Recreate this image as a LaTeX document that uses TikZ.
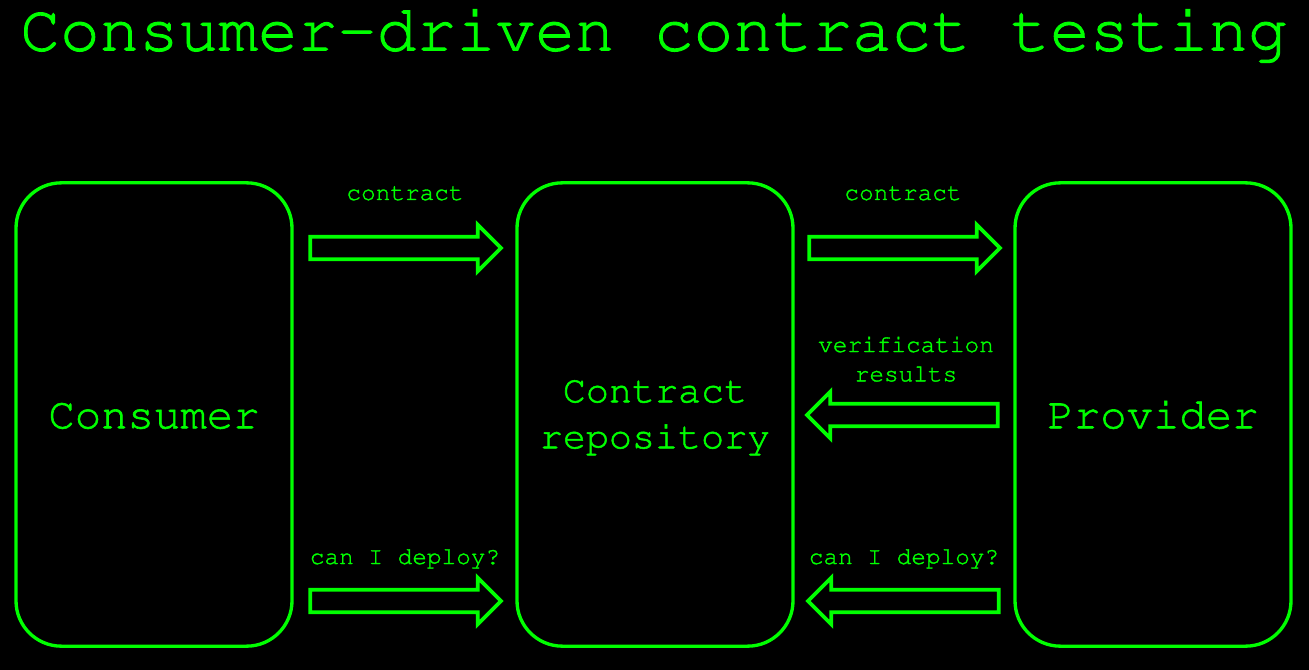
\documentclass[tikz,border=0pt]{standalone}
\usepackage[T1]{fontenc}
\usepackage{courier}
\renewcommand{\familydefault}{\ttdefault}
\usetikzlibrary{shapes.arrows}
\definecolor{termgreen}{RGB}{0,255,0}
\newcommand{\heavytext}[2]{\special{pdf:literal 2 Tr #1 w}#2\special{pdf:literal 0 Tr}}
\begin{document}
\begin{tikzpicture}[x=0.75pt,y=-0.75pt,
    box/.style={draw=termgreen,line width=2.5pt,rounded corners=34pt,minimum width=207pt,minimum height=347.5pt,inner sep=0pt,align=center,text=termgreen},
    blockarrow/.style={single arrow,draw=termgreen,line width=2.8pt,minimum height=143pt,inner xsep=0pt,inner ysep=7.1pt,single arrow head extend=9pt},
    lbl/.style={text=termgreen,font=\fontsize{18.3}{22}\selectfont,align=center,inner sep=0pt}]
  \fill[black] (0,0) rectangle (1309,670);
  \useasboundingbox (0,0) rectangle (1309,670);
  \node[text=termgreen,font=\fontsize{49.5}{59}\selectfont,anchor=base] (title) at (654,50.5) {\heavytext{0.7}{Consumer-driven contract testing}};
  \draw
    (154,414.5) node[box,font=\fontsize{33}{40}\selectfont,text height=20.7pt,text depth=0pt] (consumer) {\heavytext{0.45}{Consumer}}
    (655,414.5) node[box,font=\fontsize{28.8}{34.5}\selectfont] (repo) {\rule{0pt}{30pt}\heavytext{0.4}{Contract}\\\heavytext{0.4}{repository}\rule[-13.8pt]{0pt}{13.8pt}}
    (1153,414.5) node[box,font=\fontsize{33}{40}\selectfont,text height=20.7pt,text depth=0pt] (provider) {\heavytext{0.45}{Provider}};
  \begin{scope}[every node/.style={blockarrow}]
    \node (publish) at (400,248) {};
    \node (fetch) at (899,248) {};
    \node[shape border rotate=180] (verify) at (908,415) {};
    \node (consdeploy) at (400,601) {};
    \node[shape border rotate=180] (provdeploy) at (909,601) {};
  \end{scope}
  \node[lbl,anchor=base] (publishtext) at (405,200) {\heavytext{0.25}{contract}};
  \node[lbl,anchor=base] (fetchtext) at (903,200) {\heavytext{0.25}{contract}};
  \node[lbl,anchor=south] (verifytext) at (906,382) {\heavytext{0.25}{verification}\\\heavytext{0.25}{results}};
  \node[lbl,anchor=base] (consdeploytext) at (405,564) {\heavytext{0.25}{can I deploy?}};
  \node[lbl,anchor=base] (provdeploytext) at (904,564) {\heavytext{0.25}{can I deploy?}};
\end{tikzpicture}
\end{document}
